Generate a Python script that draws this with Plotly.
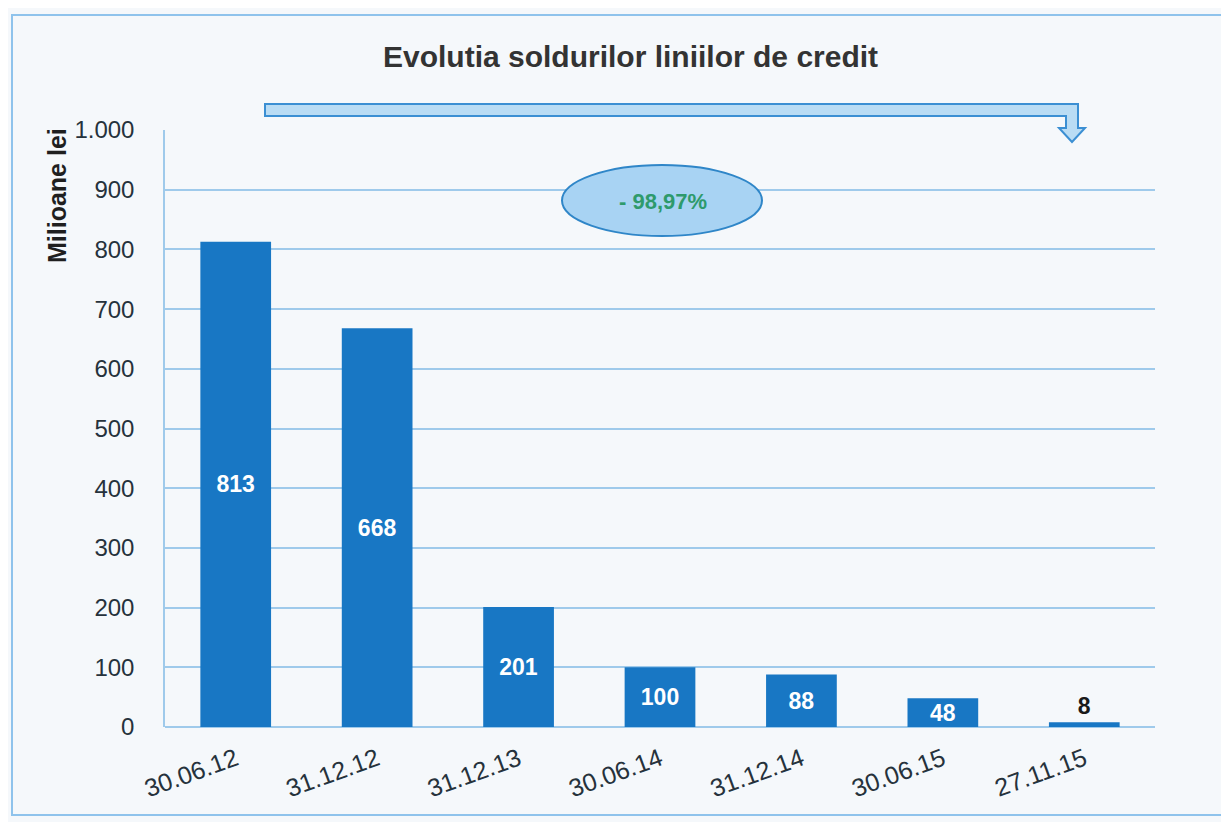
import plotly.graph_objects as go

categories = ["30.06.12", "31.12.12", "31.12.13", "30.06.14", "31.12.14", "30.06.15", "27.11.15"]
values = [813, 668, 201, 100, 88, 48, 8]
title_text = "Evolutia soldurilor liniilor de credit"
y_title = "Milioane lei"
change_label = "- 98,97%"

W, H = 1229, 822
OFF = 8  # page body margin offset
ML, MR = 165 - OFF, 74 + OFF
MT, MB = 130 - OFF, 95 + OFF
PW, PH = W - ML - MR, H - MT - MB

def px(x):
    return (x - OFF - ML) / PW

def py(y):
    return (H - MB - (y - OFF)) / PH

FONT = "Liberation Sans, Arial"
text_pos = ["inside" if v > 30 else "outside" for v in values]
text_col = ["white" if v > 30 else "#1a1a1a" for v in values]

fig = go.Figure(go.Bar(
    x=categories, y=values, width=0.5,
    marker=dict(color="#1877c4", line=dict(width=0)),
    text=[f"<b>{v}</b>" for v in values], textposition=text_pos,
    insidetextanchor="middle", textangle=0, constraintext="none",
    textfont=dict(color=text_col, size=23, family=FONT),
    cliponaxis=False,
))

shapes = []
shapes.append(dict(type="rect", xref="paper", yref="paper",
                   x0=px(12), x1=px(1250), y0=py(815), y1=py(15),
                   line=dict(color="#8fc3ec", width=2), fillcolor="rgba(0,0,0,0)", layer="below"))
pts = [(265, 104), (1078, 104), (1078, 128), (1085, 128), (1072, 142), (1059, 128),
       (1066, 128), (1066, 116), (265, 116)]
path = "M " + " L ".join(f"{px(a):.5f},{py(b):.5f}" for a, b in pts) + " Z"
shapes.append(dict(type="path", xref="paper", yref="paper", path=path,
                   fillcolor="#b9dcf4", line=dict(color="#3b8fd3", width=2)))
shapes.append(dict(type="circle", xref="paper", yref="paper",
                   x0=px(562), x1=px(762), y0=py(236), y1=py(165),
                   fillcolor="#a8d3f3", line=dict(color="#2f86c8", width=2)))

annotations = [
    dict(text=f"<b>{title_text}</b>", xref="paper", yref="paper", x=px(630), y=py(56),
         xanchor="center", yanchor="middle",
         showarrow=False, font=dict(size=30, color="#333333", family=FONT)),
    dict(text=f"<b>{change_label}</b>", xref="paper", yref="paper", x=px(663), y=py(201),
         xanchor="center", yanchor="middle",
         showarrow=False, font=dict(size=22, color="#2e9a6c", family=FONT)),
    dict(text=f"<b>{y_title}</b>", xref="paper", yref="paper", x=px(57), y=py(196),
         xanchor="center", yanchor="middle",
         showarrow=False, textangle=-90, font=dict(size=25, color="#1f1f1f", family=FONT)),
]

fig.update_layout(
    width=W, height=H,
    margin=dict(l=ML, r=MR, t=MT, b=MB),
    paper_bgcolor="#f5f8fb", plot_bgcolor="#f5f8fb",
    separators=",.",
    showlegend=False,
    shapes=shapes, annotations=annotations,
    font=dict(family=FONT, color="#222222"),
)
fig.update_yaxes(range=[0, 1000], dtick=100, tickformat=",d",
                 showgrid=True, gridcolor="#9fcaeb", gridwidth=1.5,
                 showline=True, linecolor="#9fcaeb", linewidth=1.5,
                 zeroline=True, zerolinecolor="#9fcaeb", zerolinewidth=1.5,
                 ticks="", ticklabelstandoff=24,
                 tickfont=dict(size=24, color="#26323c"))
fig.update_xaxes(showgrid=False, showline=False, ticks="", tickangle=-20,
                 ticklabelstandoff=12,
                 tickfont=dict(size=25, color="#26323c"))

fig.write_html("out.html")
